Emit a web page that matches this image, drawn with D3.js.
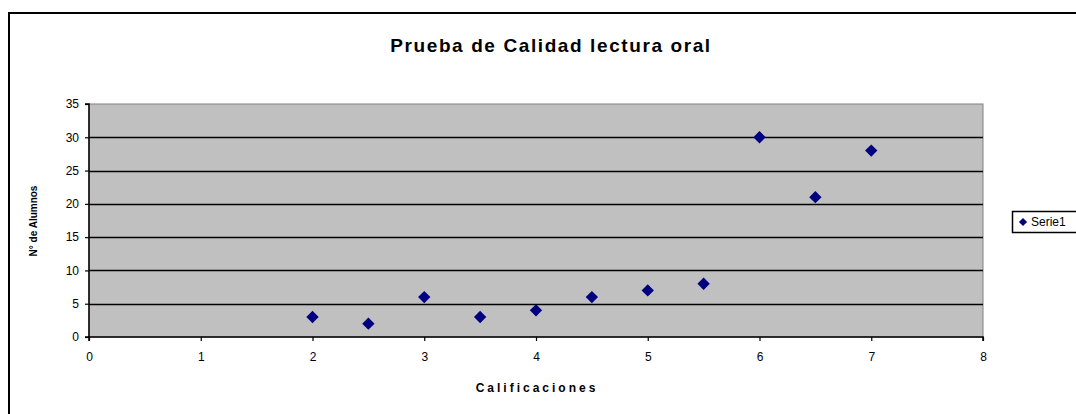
<!DOCTYPE html>
<html><head><meta charset="utf-8">
<script src="https://cdn.jsdelivr.net/npm/d3@7"></script>
<style>body{margin:0;background:#fff}svg{display:block;font-family:"Liberation Sans",Arial,sans-serif}</style>
</head><body><svg id="c" width="1076" height="414"></svg>
<script>
const title = "Prueba de Calidad lectura oral";
const xTitle = "Calificaciones";
const yTitle = "N° de Alumnos";
const seriesName = "Serie1";
const xValues = [2, 2.5, 3, 3.5, 4, 4.5, 5, 5.5, 6, 6.5, 7];
const yValues = [3, 2, 6, 3, 4, 6, 7, 8, 30, 21, 28];
const xTicks = [0,1,2,3,4,5,6,7,8];
const yTicks = [0,5,10,15,20,25,30,35];

const svg = d3.select("#c");
const L=89, R=983, T=104, B=337;
const x = d3.scaleLinear().domain([0,8]).range([L,R]);
const y = d3.scaleLinear().domain([0,35]).range([B,T]);

// outer border
svg.append("path").attr("d","M9,420 V13 H1080").attr("fill","none").attr("stroke","#000").attr("stroke-width",2);

// plot area
svg.append("rect").attr("x",L).attr("y",T).attr("width",R-L).attr("height",B-T).attr("fill","#c0c0c0").attr("stroke","#808080").attr("stroke-width",1);

// gridlines
svg.append("g").selectAll("line").data(yTicks.filter(d=>d>0&&d<35)).join("line")
  .attr("x1",L).attr("x2",R).attr("y1",d=>Math.round(y(d))+0.5).attr("y2",d=>Math.round(y(d))+0.5)
  .attr("stroke","#000").attr("stroke-width",1.5);

// axes
const yAxis = d3.axisLeft(y).tickValues(yTicks).tickSize(4).tickPadding(6);
const gy = svg.append("g").attr("transform",`translate(${L},0)`).call(yAxis);
const xAxis = d3.axisBottom(x).tickValues(xTicks).tickSize(4).tickPadding(11);
const gx = svg.append("g").attr("transform",`translate(0,${B})`).call(xAxis);
[gx,gy].forEach(g=>{
  g.select(".domain").attr("stroke","#000").attr("stroke-width",1.5);
  g.selectAll(".tick line").attr("stroke","#000").attr("stroke-width",1.2);
  g.selectAll("text").attr("font-size",12).attr("fill","#000").attr("font-family","Liberation Sans, Arial, sans-serif");
});
gy.select(".domain").attr("d",`M-4,${B}H0V${T}H-4`);
gx.select(".domain").attr("d",`M${L},4V0H${R}V4`);

// points
const sym = d3.symbol().type(d3.symbolSquare).size(76);
svg.append("g").selectAll("path").data(xValues.map((v,i)=>[v,yValues[i]])).join("path")
  .attr("d",sym).attr("transform",d=>`translate(${x(d[0])},${y(d[1])}) rotate(45)`)
  .attr("fill","#000080");

// titles
svg.append("text").attr("x",551).attr("y",52).attr("text-anchor","middle").attr("font-size",19).attr("font-weight","bold").attr("letter-spacing",1.6).text(title);
svg.append("text").attr("x",537).attr("y",392).attr("text-anchor","middle").attr("font-size",12).attr("font-weight","bold").attr("letter-spacing",3).text(xTitle);
svg.append("text").attr("transform","translate(37,221) rotate(-90)").attr("text-anchor","middle").attr("font-size",10).attr("font-weight","bold").text(yTitle);

// legend
const lg = svg.append("g");
lg.append("rect").attr("x",1012.5).attr("y",211.5).attr("width",80).attr("height",21).attr("fill","#fff").attr("stroke","#000").attr("stroke-width",1.5);
lg.append("path").attr("d",d3.symbol().type(d3.symbolSquare).size(34)).attr("transform","translate(1023,222) rotate(45)").attr("fill","#000080");
lg.append("text").attr("x",1031).attr("y",226).attr("font-size",12).text(seriesName);
</script></body></html>
